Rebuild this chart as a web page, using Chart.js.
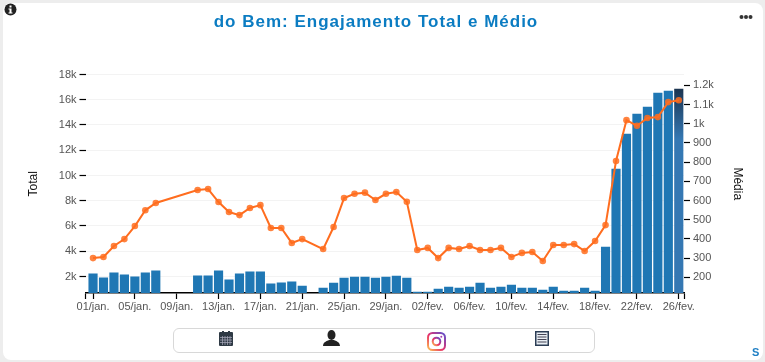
<!DOCTYPE html>
<html>
<head>
<meta charset="utf-8">
<script src="https://cdn.jsdelivr.net/npm/chart.js@4/dist/chart.umd.min.js"></script>
<style>
    html, body { margin: 0; padding: 0; width: 765px; height: 362px; overflow: hidden; background: #ededed; font-family: "Liberation Sans", Arial, sans-serif; }
    #card { position: absolute; left: 3px; top: 3px; width: 760px; height: 357px; background: #fff; border-radius: 8px; }
    #chart { position: absolute; left: 0; top: 0; }
    #title { position: absolute; left: 0; width: 752px; top: 12px; text-align: center; font-size: 17px; font-weight: bold; letter-spacing: 1px; color: #0b7cc2; }
    #info { position: absolute; left: 4px; top: 3px; }
    #more { position: absolute; left: 739px; top: 14px; }
    #bar { position: absolute; left: 173px; top: 328px; width: 420px; height: 23px; border: 1px solid #d8d8d8; border-radius: 6px; }
    .ico { position: absolute; }
    #s { position: absolute; left: 752px; top: 346px; font-size: 11px; font-weight: bold; color: #1f7fc4; }
</style>
</head>
<body>
<div id="card"></div>
<canvas id="chart" width="765" height="362"></canvas>
<div id="title">do Bem: Engajamento Total e Médio</div>
<svg id="info" width="13" height="13" viewBox="0 0 13 13"><circle cx="6.5" cy="6.5" r="6" fill="#222"/><rect x="5.5" y="2.5" width="2" height="2" fill="#fff"/><path d="M4.5 5.5h3v4h1v1h-4v-1h1v-3h-1z" fill="#fff"/></svg>
<svg id="more" width="14" height="6" viewBox="0 0 14 6"><circle cx="2.5" cy="3" r="2" fill="#333"/><circle cx="7" cy="3" r="2" fill="#333"/><circle cx="11.5" cy="3" r="2" fill="#333"/></svg>
<div id="bar"></div>
<svg class="ico" style="left:219px;top:331px" width="14" height="15" viewBox="0 0 14 15"><rect x="0" y="1" width="14" height="14" rx="1" fill="#2f3a45"/><rect x="3" y="0" width="2" height="3" fill="#2f3a45"/><rect x="9" y="0" width="2" height="3" fill="#2f3a45"/><path d="M1 6.5h12M1 9h12M1 11.5h12M3.5 5v9M6 5v9M8.500 5v9M11 5v9" stroke="#aab" stroke-width=".7"/></svg>
<svg class="ico" style="left:323px;top:330px" width="17" height="16" viewBox="0 0 17 16"><ellipse cx="8.500" cy="5" rx="4" ry="5" fill="#222"/><path d="M0 16c0-4 4-5 6-6h5c2 1 6 2 6 6z" fill="#222"/></svg>
<svg class="ico" style="left:427px;top:332px" width="19" height="19" viewBox="0 0 19 19"><defs><linearGradient id="ig" x1="0" y1="1" x2="1" y2="0"><stop offset="0" stop-color="#fdc04e"/><stop offset=".45" stop-color="#e8306a"/><stop offset="1" stop-color="#5a52d0"/></linearGradient></defs><rect x="1" y="1" width="17" height="17" rx="4.500" fill="none" stroke="url(#ig)" stroke-width="2"/><circle cx="9.500" cy="9.500" r="3.800" fill="none" stroke="url(#ig)" stroke-width="2"/><circle cx="14.300" cy="4.700" r="1" fill="#a83bb0"/></svg>
<svg class="ico" style="left:535px;top:331px" width="14" height="15" viewBox="0 0 14 15"><rect x="0" y="0" width="14" height="15" fill="#2b3d55"/><rect x="1.500" y="1.500" width="11" height="12" fill="#e8eef4"/><path d="M2.500 3.500h9M2.500 6h9M2.500 8.500h9M2.500 11h9" stroke="#445" stroke-width="1.200"/></svg>
<div id="s">S</div>
<script>
// one entry per day, 01/jan. to 26/fev.
const dayLabels = ["01/jan.","02/jan.","03/jan.","04/jan.","05/jan.","06/jan.","07/jan.","08/jan.","09/jan.","10/jan.",
    "11/jan.","12/jan.","13/jan.","14/jan.","15/jan.","16/jan.","17/jan.","18/jan.","19/jan.","20/jan.",
    "21/jan.","22/jan.","23/jan.","24/jan.","25/jan.","26/jan.","27/jan.","28/jan.","29/jan.","30/jan.","31/jan.",
    "01/fev.","02/fev.","03/fev.","04/fev.","05/fev.","06/fev.","07/fev.","08/fev.","09/fev.","10/fev.",
    "11/fev.","12/fev.","13/fev.","14/fev.","15/fev.","16/fev.","17/fev.","18/fev.","19/fev.","20/fev.",
    "21/fev.","22/fev.","23/fev.","24/fev.","25/fev.","26/fev."];
const totalValues = [2210,1900,2290,2130,1970,2290,2450,null,null,null,
    2050,2050,2450,1740,2210,2370,2370,1420,1500,1580,
    1250,null,1089,1485,1881,1960,1960,1881,1960,2040,1881,
    772,760,1010,1168,1089,1168,1485,1089,1168,1326,
    1089,1089,930,1168,852,852,1089,852,4336,10514,
    13286,14870,15424,16533,16692,16850];
const mediaValues = [300,306,363,399,467,549,587,null,null,null,
    655,660,592,540,524,561,576,457,457,379,
    399,null,347,462,613,635,641,603,635,644,594,
    342,353,300,353,347,363,342,342,353,306,
    327,332,285,368,368,373,337,389,472,806,
    1019,990,1030,1035,1113,1123];
const xTickDays = [0,4,8,12,16,20,24,28,32,36,40,44,48,52,56];
const totalTicks = [2000,4000,6000,8000,10000,12000,14000,16000,18000];
const mediaTicks = [200,300,400,500,600,700,800,900,1000,1100,1200];

const fmtK = v => v >= 1000 ? (v / 1000) + "k" : String(v);
const toPoints = arr => arr.map((v, i) => ({x: i, y: v}));
const setTicks = list => scale => { scale.ticks = list.map(v => ({value: v})); };

const ctx = document.getElementById('chart').getContext('2d');

const chart = new Chart(ctx, {
    type : "bar",
    data : {
        datasets : [
            {
                type : "line",
                label : "Média",
                yAxisID : "y1",
                data : toPoints(mediaValues),
                borderColor : "#ff6d1f",
                borderWidth : 2,
                backgroundColor : "rgba(255,109,31,.85)",
                pointRadius : 3.3,
                pointBorderWidth : 0,
                lineTension : 0,
                spanGaps : true,
                order : 1
            },
            {
                label : "Total",
                yAxisID : "y",
                data : toPoints(totalValues),
                barThickness : 8.5,
                backgroundColor : c => {
                    if (c.dataIndex !== totalValues.length - 1 || !c.chart.chartArea) return "#1f77b4";
                    // last bar is highlighted
                    const top = c.chart.scales.y.getPixelForValue(totalValues[c.dataIndex]);
                    const g = c.chart.ctx.createLinearGradient(0, top, 0, top + 50);
                    g.addColorStop(0, "#1c3551");
                    g.addColorStop(1, "#3578b3");
                    return g;
                },
                order : 2
            }
        ]
    },
    options : {
        responsive : false,
        animation : false,
        layout : { padding : { top : 74.5 } },
        plugins : { legend : { display : false }, title : { display : false }, tooltip : { enabled : false } },
        scales : {
            x : {
                type : "linear",
                offset : false,
                min : -0.72,
                max : 56.5,
                grid : { offset : false, drawOnChartArea : false, tickColor : "#000", tickLength : 6, tickWidth : 1.2 },
                border : { color : "#000", width : 1.5 },
                afterBuildTicks : s => { s.ticks = [s.min].concat(xTickDays, [s.max]).map(v => ({value: v})); },
                afterFit : s => { s.height = 69; },
                ticks : {
                    autoSkip : false,
                    maxRotation : 0,
                    padding : 1,
                    color : "#555",
                    font : { family : "Liberation Sans", size : 11 },
                    callback : v => dayLabels[v] && xTickDays.includes(v) ? dayLabels[v] : ""
                }
            },
            y : {
                position : "left",
                min : 693,
                max : 18000,
                grid : { color : "#f3f3f3", tickColor : "#000", tickLength : 6, tickWidth : 1.2 },
                border : { display : false },
                afterBuildTicks : setTicks(totalTicks),
                afterFit : s => { s.width = 85.5; },
                ticks : { padding : 3, color : "#555", font : { family : "Liberation Sans", size : 11 }, callback : fmtK },
                title : { display : true, text : "Total", color : "#111", font : { family : "Liberation Sans", size : 12 }, padding : { top : 26, bottom : 0 } }
            },
            y1 : {
                position : "right",
                min : 118,
                max : 1257,
                grid : { drawOnChartArea : false, tickColor : "#000", tickLength : 6, tickWidth : 1.2 },
                border : { display : false },
                afterBuildTicks : setTicks(mediaTicks),
                afterFit : s => { s.width = 81; },
                ticks : { padding : 3, color : "#555", font : { family : "Liberation Sans", size : 11 }, callback : fmtK },
                title : { display : true, text : "Média", color : "#111", font : { family : "Liberation Sans", size : 12 }, padding : { top : 20, bottom : 0 } }
            }
        }
    }
});
</script>
</body>
</html>
